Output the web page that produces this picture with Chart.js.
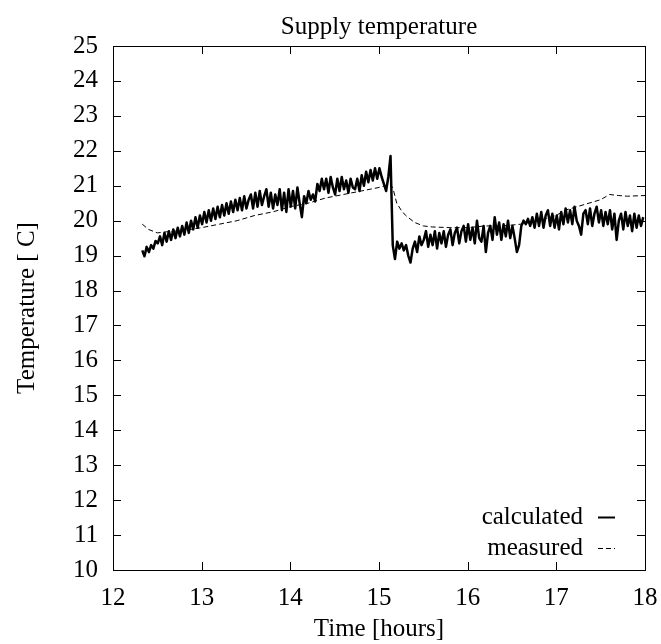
<!DOCTYPE html>
<html>
<head>
<meta charset="utf-8">
<title>Supply temperature</title>
<script src="https://cdn.jsdelivr.net/npm/chart.js@4.4.1/dist/chart.umd.min.js"></script>
<style>
  html, body { margin: 0; padding: 0; background: #fff; }
  #wrap { position: relative; width: 661px; height: 644px; }
</style>
</head>
<body>
<div id="wrap"><canvas id="chart"></canvas></div>
<script>
// sampling of the calculated series (hours)
const calcStart = 12.33;
const calcStep = 0.025;

// calculated supply temperature
const calculated = [
  19.15, 18.98, 19.25, 19.1, 19.3, 19.2, 19.42, 19.35,
  19.55, 19.3, 19.65, 19.4, 19.7, 19.45, 19.75, 19.5,
  19.8, 19.55, 19.85, 19.6, 19.95, 19.65, 20.0, 19.75,
  20.1, 19.8, 20.15, 19.9, 20.25, 19.95, 20.3, 20.0,
  20.35, 20.05, 20.4, 20.1, 20.45, 20.15, 20.5, 20.2,
  20.55, 20.25, 20.6, 20.3, 20.65, 20.3, 20.7, 20.35,
  20.6, 20.75, 20.35, 20.8, 20.4, 20.85, 20.45, 20.7,
  20.9, 20.4, 20.8, 20.35, 20.75, 20.45, 20.9, 20.3,
  20.8, 20.25, 20.9, 20.4, 20.85, 20.35, 20.95, 20.5,
  20.1, 20.7, 20.5, 20.85, 20.6, 20.75, 20.55, 21.05,
  20.85, 21.2, 20.9, 21.2, 20.8, 21.25, 20.95, 20.75,
  21.2, 20.85, 21.25, 20.9, 21.15, 20.8, 21.2, 20.95,
  20.9, 21.2, 20.85, 21.3, 21.0, 21.4, 21.1, 21.45,
  21.15, 21.5, 21.2, 21.5, 21.25, 21.05, 20.85, 21.25,
  21.85, 19.3, 18.9, 19.4, 19.2, 19.35, 19.15, 19.3,
  19.0, 18.8, 19.2, 19.4, 19.1, 19.55, 19.3, 19.45,
  19.7, 19.25, 19.6, 19.3, 19.7, 19.2, 19.65, 19.35,
  19.7, 19.25, 19.6, 19.75, 19.3, 19.65, 19.8, 19.35,
  19.7, 19.85, 19.4, 19.9, 19.45, 19.8, 19.35, 20.0,
  19.5, 19.4, 19.85, 19.1, 19.65, 19.85, 19.45, 20.1,
  19.6, 19.95, 19.45, 19.9, 19.55, 20.0, 19.5, 19.85,
  19.5, 19.1, 19.3, 19.85, 20.0, 19.9, 20.05, 19.85,
  20.1, 19.8, 20.2, 19.85, 20.25, 19.8, 20.15, 20.3,
  19.85, 20.2, 19.8, 20.15, 19.75, 20.25, 19.9, 20.35,
  19.95, 20.3, 19.9, 20.4, 20.0, 19.85, 19.6, 20.2,
  20.3, 19.9, 20.35, 19.85, 20.2, 20.4, 19.95, 20.3,
  19.85, 20.25, 19.9, 20.3, 19.75, 20.2, 19.45, 20.0,
  20.2, 19.75, 20.25, 19.85, 20.15, 19.7, 20.2, 19.8,
  20.15, 19.85, 20.1
];

// measured supply temperature
const measuredTimes = [
  12.33, 12.4, 12.5, 12.6, 12.8, 13.0, 13.2, 13.4, 13.6, 13.8,
  14.0, 14.2, 14.4, 14.6, 14.8, 15.0, 15.13, 15.16, 15.2, 15.25,
  15.3, 15.35, 15.4, 15.45, 15.5, 15.6, 15.8, 16.0, 16.2, 16.4,
  16.6, 16.8, 17.0, 17.1, 17.3, 17.5, 17.6, 17.7, 17.8, 18.0
];
const measured = [
  19.9, 19.75, 19.65, 19.68, 19.72, 19.8, 19.9, 20.0, 20.15, 20.25,
  20.4, 20.5, 20.65, 20.75, 20.85, 20.95, 21.05, 20.9, 20.5, 20.3,
  20.15, 20.05, 19.95, 19.9, 19.85, 19.82, 19.8, 19.8, 19.85, 19.85,
  19.9, 20.0, 20.15, 20.3, 20.45, 20.6, 20.75, 20.72, 20.7, 20.72
];

const xTicks = [12, 13, 14, 15, 16, 17, 18];
const yMin = 10;
const yMax = 25;
const titleText = "Supply temperature";

const FONT = "'Liberation Serif', 'Times New Roman', serif";

const calcPoints = calculated.map((v, i) => ({ x: calcStart + i * calcStep, y: v }));
const measPoints = measured.map((v, i) => ({ x: measuredTimes[i], y: v }));

// gnuplot-ish frame with inward ticks on all four sides, title and key
const framePlugin = {
  id: "frame",
  afterDraw(chart) {
    const { ctx, chartArea: a, scales } = chart;
    const len = 8;
    ctx.save();
    ctx.strokeStyle = "#000";
    ctx.lineWidth = 1;
    ctx.strokeRect(a.left + 0.5, a.top + 0.5, a.right - a.left, a.bottom - a.top);
    ctx.beginPath();
    scales.x.ticks.forEach((t) => {
      const px = Math.round(scales.x.getPixelForValue(t.value)) + 0.5;
      ctx.moveTo(px, a.bottom);
      ctx.lineTo(px, a.bottom - len);
      ctx.moveTo(px, a.top);
      ctx.lineTo(px, a.top + len);
    });
    scales.y.ticks.forEach((t) => {
      const py = Math.round(scales.y.getPixelForValue(t.value)) + 0.5;
      ctx.moveTo(a.left, py);
      ctx.lineTo(a.left + len, py);
      ctx.moveTo(a.right, py);
      ctx.lineTo(a.right - len, py);
    });
    ctx.stroke();

    ctx.font = "25px " + FONT;
    ctx.fillStyle = "#000";

    // title centred over the plot area
    ctx.textAlign = "center";
    ctx.textBaseline = "middle";
    ctx.fillText(titleText, (a.left + a.right) / 2, 27);

    // key, bottom right
    ctx.textAlign = "right";
    const textRight = a.right - 62;
    const sampleLeft = a.right - 47;
    const sampleRight = a.right - 30;
    chart.data.datasets.forEach((ds, i) => {
      const y = a.bottom - 53 + i * 31;
      ctx.fillText(ds.label, textRight, y);
      ctx.beginPath();
      ctx.lineWidth = ds.label === "calculated" ? 2 : 1;
      ctx.setLineDash(ds.borderDash || []);
      ctx.moveTo(sampleLeft, y + 0.5);
      ctx.lineTo(sampleRight, y + 0.5);
      ctx.stroke();
    });
    ctx.restore();
  },
};

new Chart(document.getElementById("chart"), {
  type: "line",
  data: {
    datasets: [
      {
        label: "calculated",
        data: calcPoints,
        borderColor: "#000",
        borderWidth: 2.5,
        borderJoinStyle: "round",
        pointRadius: 0,
        tension: 0,
      },
      {
        label: "measured",
        data: measPoints,
        borderColor: "#000",
        borderWidth: 1,
        borderDash: [5, 3],
        pointRadius: 0,
        tension: 0,
      },
    ],
  },
  options: {
    responsive: true,
    maintainAspectRatio: false,
    animation: false,
    layout: { padding: { left: 0, right: 16, top: 46, bottom: 0 } },
    plugins: {
      legend: { display: false },
      tooltip: { enabled: false },
      title: { display: false },
    },
    scales: {
      x: {
        type: "linear",
        min: 12,
        max: 18,
        afterBuildTicks(scale) {
          scale.ticks = xTicks.map((v) => ({ value: v }));
        },
        afterFit(scale) {
          scale.height = 74;
          scale.paddingLeft = 0;
          scale.paddingRight = 0;
        },
        grid: { display: false, drawTicks: false },
        border: { display: false },
        ticks: {
          color: "#000",
          padding: 13,
          maxRotation: 0,
          font: { family: FONT, size: 25 },
        },
        title: {
          display: true,
          text: "Time [hours]",
          color: "#000",
          font: { family: FONT, size: 25 },
          padding: { top: 0, bottom: 0 },
        },
      },
      y: {
        type: "linear",
        min: yMin,
        max: yMax,
        afterFit(scale) {
          scale.width = 113;
          scale.paddingTop = 0;
          scale.paddingBottom = 0;
        },
        grid: { display: false, drawTicks: false },
        border: { display: false },
        ticks: {
          stepSize: 1,
          color: "#000",
          padding: 15,
          font: { family: FONT, size: 25 },
        },
        title: {
          display: true,
          text: "Temperature [ C]",
          color: "#000",
          font: { family: FONT, size: 25 },
          padding: { top: 12, bottom: 0 },
        },
      },
    },
  },
  plugins: [framePlugin],
});
</script>
</body>
</html>
